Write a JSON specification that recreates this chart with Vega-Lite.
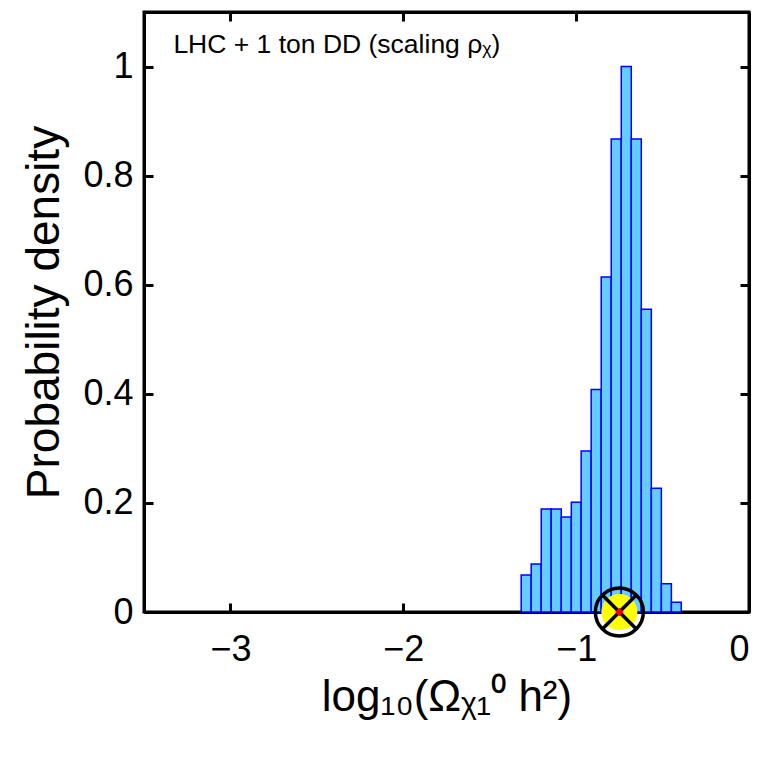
{
  "$schema": "https://vega.github.io/schema/vega-lite/v6.json",
  "width": 605,
  "height": 600,
  "autosize": "none",
  "padding": {"left": 144, "top": 12, "right": 18, "bottom": 152},
  "background": "white",
  "config": {
    "view": {"stroke": "black", "strokeWidth": 3},
    "font": "Liberation Sans",
    "axis": {
      "domainColor": "black",
      "domainWidth": 3,
      "tickColor": "black",
      "tickWidth": 3,
      "tickSize": -9,
      "grid": false,
      "labelFont": "Liberation Sans",
      "labelFontSize": 36,
      "labelColor": "black",
      "titleFont": "Liberation Sans",
      "titleFontSize": 44,
      "titleFontWeight": "normal",
      "titleColor": "black"
    }
  },
  "datasets": {
    "hist": [
      {"x0": -1.318, "x1": -1.260, "density": 0.068},
      {"x0": -1.260, "x1": -1.202, "density": 0.088},
      {"x0": -1.202, "x1": -1.144, "density": 0.189},
      {"x0": -1.144, "x1": -1.086, "density": 0.189},
      {"x0": -1.086, "x1": -1.028, "density": 0.174},
      {"x0": -1.028, "x1": -0.971, "density": 0.201},
      {"x0": -0.971, "x1": -0.913, "density": 0.295},
      {"x0": -0.913, "x1": -0.855, "density": 0.408},
      {"x0": -0.855, "x1": -0.797, "density": 0.614},
      {"x0": -0.797, "x1": -0.739, "density": 0.867},
      {"x0": -0.739, "x1": -0.681, "density": 1.0},
      {"x0": -0.681, "x1": -0.623, "density": 0.867},
      {"x0": -0.623, "x1": -0.565, "density": 0.555},
      {"x0": -0.565, "x1": -0.507, "density": 0.227},
      {"x0": -0.507, "x1": -0.449, "density": 0.052},
      {"x0": -0.449, "x1": -0.392, "density": 0.018}
    ],
    "best": [{"x": -0.75, "y": 0}],
    "label": [{"x": -3.33, "y": 1.04, "text": "LHC + 1 ton DD (scaling ρᵪ)"}]
  },
  "resolve": {"axis": {"x": "independent", "y": "independent"}},
  "layer": [
    {
      "data": {"name": "hist"},
      "mark": {"type": "rect", "fill": "#66CCFF", "stroke": "#0000FF", "strokeWidth": 1.5},
      "encoding": {
        "x": {
          "field": "x0", "type": "quantitative",
          "scale": {"domain": [-3.5, 0], "nice": false, "zero": false},
          "axis": {"orient": "bottom", "values": [-3, -2, -1, 0], "format": "d", "labelPadding": 29, "title": "log₁₀(Ωᵪ₁⁰ h²)", "titlePadding": 8}
        },
        "x2": {"field": "x1"},
        "y": {
          "field": "density", "type": "quantitative",
          "scale": {"domain": [0, 1.1], "nice": false},
          "axis": {"orient": "left", "values": [0, 0.2, 0.4, 0.6, 0.8, 1], "labelExpr": "format(datum.value, '~g')", "labelPadding": 20, "title": "Probability density", "titleFontSize": 46, "titlePadding": 14}
        },
        "y2": {"datum": 0}
      }
    },
    {
      "data": {"name": "label"},
      "mark": {"type": "text", "align": "left", "baseline": "middle", "fontSize": 26.5, "font": "Liberation Sans", "color": "black"},
      "encoding": {
        "x": {"field": "x", "type": "quantitative", "scale": {"domain": [-3.5, 0], "nice": false, "zero": false},
              "axis": {"orient": "top", "values": [-3, -2, -1, 0], "labels": false, "title": null}},
        "y": {"field": "y", "type": "quantitative", "scale": {"domain": [0, 1.1], "nice": false},
              "axis": {"orient": "right", "values": [0, 0.2, 0.4, 0.6, 0.8, 1], "labels": false, "title": null}},
        "text": {"field": "text"}
      }
    },
    {
      "data": {"name": "best"},
      "mark": {"type": "point", "shape": "circle", "filled": true, "fill": "#FFFF00", "stroke": null, "strokeWidth": 0, "size": 1300, "opacity": 1},
      "encoding": {
        "x": {"field": "x", "type": "quantitative", "axis": null},
        "y": {"field": "y", "type": "quantitative", "axis": null}
      }
    },
    {
      "data": {"name": "best"},
      "mark": {"type": "point", "shape": "M-0.7071,-0.7071L0.7071,0.7071M-0.7071,0.7071L0.7071,-0.7071", "filled": false, "stroke": "black", "strokeWidth": 3.5, "size": 2304, "opacity": 1},
      "encoding": {
        "x": {"field": "x", "type": "quantitative", "axis": null},
        "y": {"field": "y", "type": "quantitative", "axis": null}
      }
    },
    {
      "data": {"name": "best"},
      "mark": {"type": "point", "shape": "circle", "filled": false, "stroke": "black", "strokeWidth": 3.5, "size": 2304, "opacity": 1},
      "encoding": {
        "x": {"field": "x", "type": "quantitative", "axis": null},
        "y": {"field": "y", "type": "quantitative", "axis": null}
      }
    },
    {
      "data": {"name": "best"},
      "mark": {"type": "point", "shape": "diamond", "filled": true, "fill": "#FF0000", "strokeWidth": 0, "size": 70, "opacity": 1},
      "encoding": {
        "x": {"field": "x", "type": "quantitative", "axis": null},
        "y": {"field": "y", "type": "quantitative", "axis": null}
      }
    }
  ]
}
